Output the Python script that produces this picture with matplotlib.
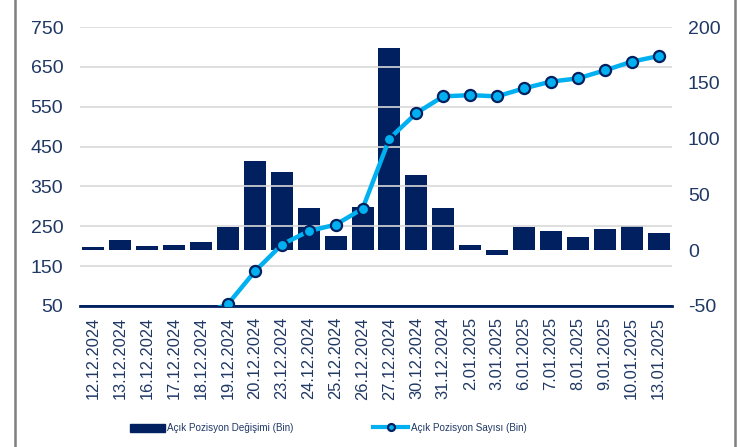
import numpy as np
import matplotlib
matplotlib.use('Agg')
import matplotlib.pyplot as plt
from matplotlib.patches import Rectangle
from matplotlib.lines import Line2D

plt.rcParams['font.family'] = ['Liberation Sans', 'DejaVu Sans']
plt.rcParams['axes.unicode_minus'] = False

dates = ['12.12.2024', '13.12.2024', '16.12.2024', '17.12.2024', '18.12.2024',
         '19.12.2024', '20.12.2024', '23.12.2024', '24.12.2024', '25.12.2024',
         '26.12.2024', '27.12.2024', '30.12.2024', '31.12.2024', '2.01.2025',
         '3.01.2025', '6.01.2025', '7.01.2025', '8.01.2025', '9.01.2025',
         '10.01.2025', '13.01.2025']

# Açık pozisyon değişimi (bin) - sağ eksen
degisim = [3, 9, 4, 5, 7, 21, 80, 70, 38, 13, 39, 181, 67, 38, 5, -4,
           21, 17, 12, 19, 22, 15]

# Açık pozisyon sayısı (bin) - sol eksen
sayi = [3, 12, 16, 21, 28, 55, 137, 204, 238, 254, 294, 470, 534, 576,
        579, 576, 596, 613, 621, 641, 663, 677]

navy = '#002060'
cyan = '#00B0F0'
txt = '#1F3864'

fig = plt.figure(figsize=(7.48, 4.47), dpi=100)
fig.patches.append(Rectangle((15/748, -0.01), 720/748, 1.02, transform=fig.transFigure,
                             fill=False, edgecolor='#7F7F7F', linewidth=1.8))

ax = fig.add_axes([80/748, 1 - 306/447, 592/748, 279/447])
ax2 = ax.twinx()
x = np.arange(len(dates))

# bars on the right-hand scale
ax.bar(x, degisim, width=0.82, color=navy, zorder=2)
ax.set_ylim(-50, 200)
ax.set_yticks([-50, 0, 50, 100, 150, 200])
ax.yaxis.tick_right()
ax.set_xlim(-0.5, len(dates) - 0.5)
ax.set_xticks(x)
ax.set_xticklabels(dates, rotation=90, fontsize=11.8, color=txt)
ax.tick_params(axis='both', length=0, pad=8)
ax.tick_params(axis='y', labelsize=14, labelcolor=txt, pad=11.5)
for s in ['top', 'right', 'left']:
    ax.spines[s].set_visible(False)
ax.spines['bottom'].set_color(navy)
ax.spines['bottom'].set_linewidth(2)
ax.spines['bottom'].set_zorder(3)

# line on the left-hand scale
ax2.set_ylim(50, 750)
ax2.set_yticks(np.arange(50, 751, 100))
ax2.yaxis.tick_left()
ax2.tick_params(axis='y', length=0, labelsize=14, labelcolor=txt, pad=12)
for s in ax2.spines.values():
    s.set_visible(False)
for yv in np.arange(150, 751, 100):
    ax2.axhline(yv, color='#D9D9D9', linewidth=1.2, zorder=0)
ax.set_zorder(1)
ax2.set_zorder(2)
ax2.patch.set_visible(False)
ax2.plot(x, sayi, color=cyan, linewidth=3.2, marker='o', markersize=8,
         markerfacecolor=cyan, markeredgecolor=navy, markeredgewidth=1.6, zorder=4)
ax2.axhline(50, color=navy, linewidth=2, zorder=1)

# legend
h1 = Rectangle((0, 0), 1, 1, color=navy)
h2 = Line2D([0], [0], color=cyan, linewidth=3, marker='o', markersize=5,
            markerfacecolor=cyan, markeredgecolor=navy, markeredgewidth=1.6)
fig.legend([h1, h2], ['Açık Pozisyon Değişimi (Bin)', 'Açık Pozisyon Sayısı (Bin)'],
           loc='center', bbox_to_anchor=(328/748, 1 - 428/447), ncol=2, frameon=False,
           fontsize=7.1, labelcolor=txt, handlelength=3.6, handletextpad=0.25,
           columnspacing=8, handleheight=0.9)

fig.savefig('out.png', dpi=100)
